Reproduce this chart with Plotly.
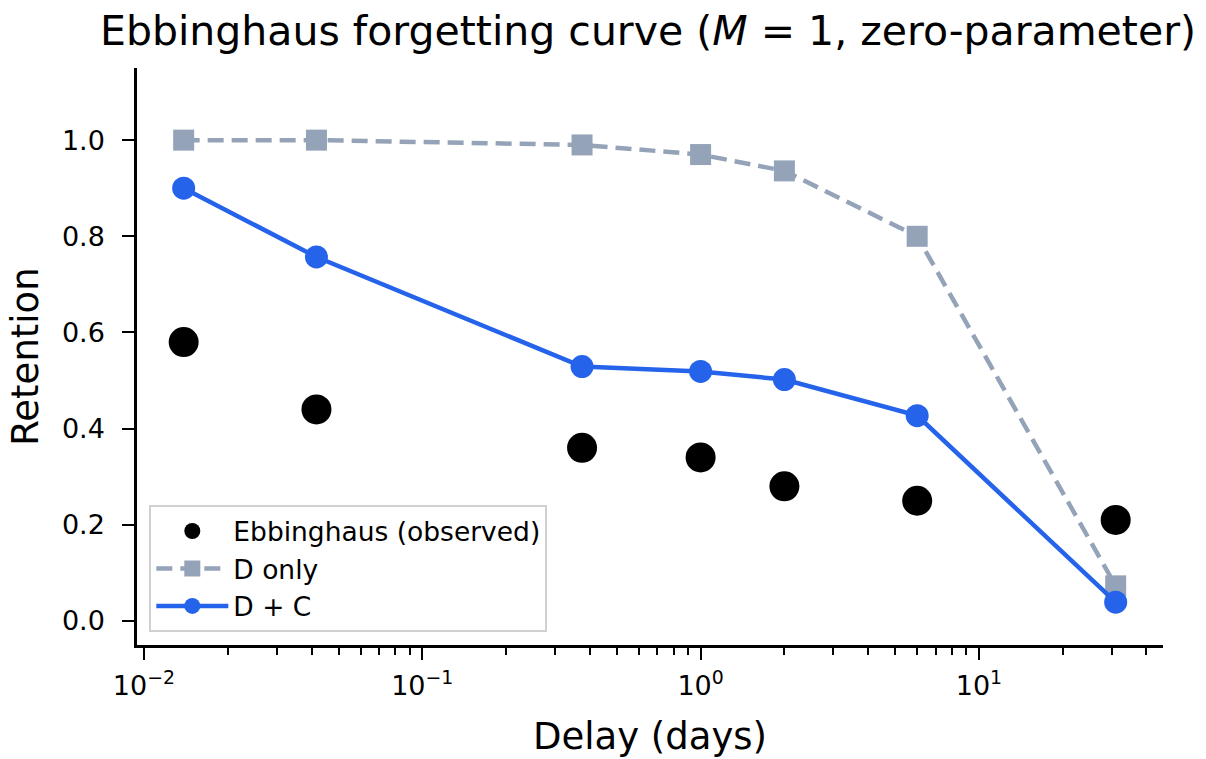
import plotly.graph_objects as go
import numpy as np

# Delays in days (20 min, 1 h, 9 h, 1 d, 2 d, 6 d, 31 d)
delay_days = [20/1440, 1/24, 9/24, 1.0, 2.0, 6.0, 31.0]
observed = [0.58, 0.44, 0.36, 0.34, 0.28, 0.25, 0.21]
d_only = [1.00, 1.00, 0.99, 0.97, 0.936, 0.80, 0.073]
d_plus_c = [0.90, 0.757, 0.529, 0.519, 0.502, 0.427, 0.039]

x_tickvals = [0.01, 0.1, 1, 10]
x_ticktext = ["10<sup>−2</sup>", "10<sup>−1</sup>", "10<sup>0</sup>", "10<sup>1</sup>"]
y_tickvals = [0.0, 0.2, 0.4, 0.6, 0.8, 1.0]

FONT = "DejaVu Sans"
BLACK = "#000000"
GRAY = "#94a3b8"
BLUE = "#2563eb"

fig = go.Figure()
fig.add_trace(go.Scatter(
    x=delay_days, y=observed, mode="markers", name="Ebbinghaus (observed)",
    marker=dict(color=BLACK, size=30, symbol="circle"),
))
fig.add_trace(go.Scatter(
    x=delay_days, y=d_only, mode="lines+markers", name="D only",
    line=dict(color=GRAY, width=4.5, dash="16px,8px"),
    marker=dict(color=GRAY, size=21, symbol="square"),
))
fig.add_trace(go.Scatter(
    x=delay_days, y=d_plus_c, mode="lines+markers", name="D + C",
    line=dict(color=BLUE, width=4.5),
    marker=dict(color=BLUE, size=23, symbol="circle"),
))

minor_vals = [k * 10.0**e for e in range(-3, 2) for k in range(2, 10)]

fig.update_layout(
    width=1206, height=759,
    margin=dict(l=137, r=43, t=68, b=114, autoexpand=False),
    paper_bgcolor="white", plot_bgcolor="white",
    font=dict(family=FONT, color="black"),
    title=dict(
        text="Ebbinghaus forgetting curve (<i>M</i> = 1, zero-parameter)",
        x=648 / 1206, xanchor="center",
        y=1 - 31 / 759, yanchor="middle",
        font=dict(size=41, family=FONT, color="black"),
    ),
    showlegend=True,
    legend=dict(
        x=0.012, y=0.022, xanchor="left", yanchor="bottom",
        bgcolor="rgba(255,255,255,0.85)", bordercolor="#d0d0d0", borderwidth=2,
        font=dict(size=26.5, family=FONT, color="black"),
        itemsizing="trace", itemwidth=72, tracegroupgap=0,
    ),
    xaxis=dict(
        type="log", range=[np.log10(0.01) - 0.025, np.log10(31) + 0.17],
        automargin=False,
        showgrid=False, zeroline=False,
        showline=True, linecolor="black", linewidth=2.5, mirror=False,
        ticks="outside", ticklen=12, tickwidth=2, tickcolor="black",
        tickmode="array", tickvals=x_tickvals, ticktext=x_ticktext,
        tickfont=dict(size=27, family=FONT, color="black"),
        ticklabelstandoff=3,
        minor=dict(ticks="outside", ticklen=7, tickwidth=1.5, tickcolor="black",
                   tickmode="array", tickvals=minor_vals, showgrid=False),
        title=dict(text="Delay (days)", font=dict(size=37, family=FONT, color="black"), standoff=23),
    ),
    yaxis=dict(
        range=[-0.05, 1.15],
        automargin=False,
        showgrid=False, zeroline=False,
        showline=True, linecolor="black", linewidth=2.5, mirror=False,
        ticks="outside", ticklen=12, tickwidth=2, tickcolor="black",
        tickmode="array", tickvals=y_tickvals, tickformat=".1f",
        tickfont=dict(size=27, family=FONT, color="black"),
        ticklabelstandoff=12,
        title=dict(text="Retention", font=dict(size=37, family=FONT, color="black"), standoff=12),
    ),
)

fig.write_html("out.html")
